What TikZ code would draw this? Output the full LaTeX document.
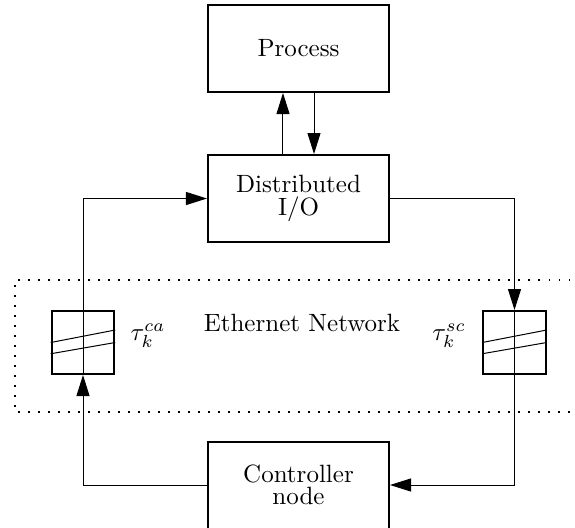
\documentclass[tikz,border=0pt]{standalone}
\usetikzlibrary{arrows.meta,calc}
\begin{document}
\begin{tikzpicture}[x=0.4pt,y=-0.4pt,
  block/.style={draw,line width=0.8pt,minimum width=72.4pt,minimum height=34.8pt,inner sep=0pt,align=center,font={\fontsize{10}{9}\selectfont}},
  delaybox/.style={draw,line width=0.8pt,minimum width=25pt,minimum height=25.2pt,inner sep=0pt},
  conn/.style={line width=0.4pt},
  arr/.style={conn,-{Triangle[length=8.4pt,width=5.2pt]}},
  netline/.style={line width=0.6pt,dash pattern=on 0.6pt off 3.4pt}]
\useasboundingbox (0,0) rectangle (575,528);
\clip (0,0) rectangle (575,528);
% network region
\draw[netline] (580,280) -- (15,280) -- (15,412) -- (580,412);
\node at (302,323) (net) {Ethernet Network};
% blocks
\node[block] (proc) at (298.5,48.5) {Process};
\node[block] (dio) at (298.5,198.5) {Distributed\\I/O};
\node[block] (ctrl) at (298.5,485) {Controller\\node};
% delay boxes
\node[delaybox] (dl) at (83,342.5) {};
\node[delaybox] (dr) at (514.5,342.5) {};
\draw[conn] (dl.west) -- ([yshift=5pt]dl.east);
\draw[conn] ([yshift=-4.5pt]dl.west) -- (dl.east);
\draw[conn] (dr.west) -- ([yshift=5pt]dr.east);
\draw[conn] ([yshift=-4.5pt]dr.west) -- (dr.east);
\node (tca) at (148,336) {$\tau_k^{ca}$};
\node (tsc) at (449,336) {$\tau_k^{sc}$};
% connectors
\draw[arr] ([xshift=-6.2pt]dio.north) -- ([xshift=-6.2pt]proc.south);
\draw[arr] ([xshift=6.2pt]proc.south) -- ([xshift=6.2pt]dio.north);
\draw[arr] (ctrl.west) -| (dl.south);
\draw[conn] (dl.south) -- (dl.north);
\draw[arr] (dl.north) |- (dio.west);
\draw[arr] (dio.east) -| (dr.north);
\draw[conn] (dr.north) -- (dr.south);
\draw[arr] (dr.south) |- (ctrl.east);
\end{tikzpicture}
\end{document}
